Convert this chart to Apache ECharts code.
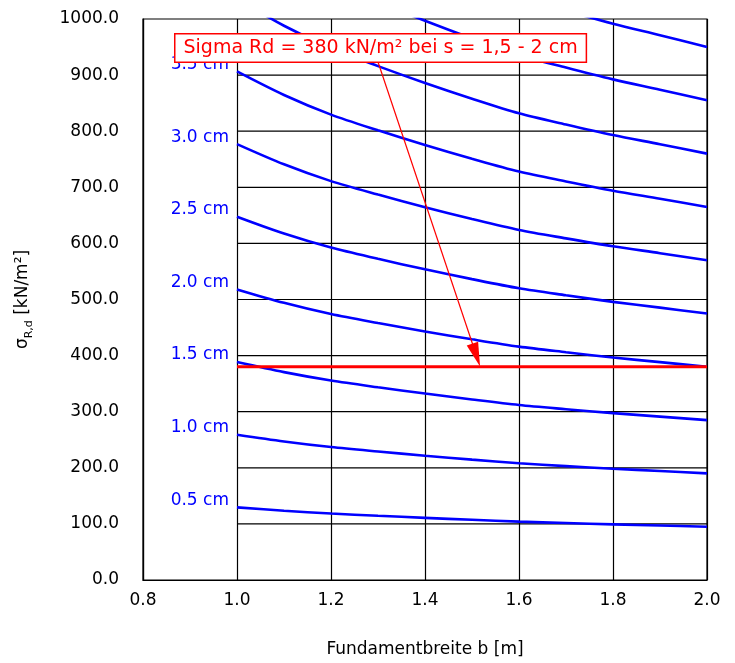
<!DOCTYPE html>
<html><head><meta charset="utf-8">
<script src="https://cdn.jsdelivr.net/npm/echarts@6/dist/echarts.min.js"></script>
<style>html,body{margin:0;padding:0;background:#fff}#c{width:735px;height:663px}</style>
</head><body><div id="c"></div>
<script>
// Foundation widths b [m]
const widths = [1.0, 1.1, 1.2, 1.3, 1.4, 1.5, 1.6, 1.7, 1.8, 1.9, 2.0];
// Settlement curves (sigma R,d in kN/m² for each settlement s)
const curveLabels = ['0.5 cm', '1.0 cm', '1.5 cm', '2.0 cm', '2.5 cm', '3.0 cm', '3.5 cm', '4.0 cm', '4.5 cm', '5.0 cm'];
const labelled = [true, true, true, true, true, true, true, false, false, false];
const s05 = [129.5, 123.5, 118.5, 114.5, 110.8, 107.3, 104, 101.5, 99.2, 97.1, 95];
const s10 = [259, 247, 237, 229, 221.5, 214.5, 208, 203, 198.3, 194.2, 190];
const s15 = [388.5, 370.5, 355.5, 343.5, 332.3, 321.8, 312, 304.5, 297.5, 291.3, 285];
const s20 = [518, 494, 474, 458, 443, 429, 416, 406, 396.6, 388.4, 380];
const s25 = [647.5, 617.5, 592.5, 572.5, 553.8, 536.3, 520, 507.5, 495.8, 485.5, 475];
const s30 = [777, 741, 711, 687, 664.5, 643.5, 624, 609, 594.9, 582.6, 570];
const s35 = [906.5, 864.5, 829.5, 801.5, 775.3, 750.8, 728, 710.5, 694, 679.7, 665];
const s40 = [1036, 988, 948, 916, 886, 858, 832, 812, 793.2, 776.8, 760];
const s45 = [1165.5, 1111.5, 1066.5, 1030.5, 996.8, 965.3, 936, 913.5, 892.4, 873.9, 855];
const s50 = [1295, 1235, 1185, 1145, 1107.5, 1072.5, 1040, 1015, 991.5, 971, 950];
const curves = [s05, s10, s15, s20, s25, s30, s35, s40, s45, s50];

// Axis ticks
const xMin = 0.8, xMax = 2.0, xStep = 0.2;
const yMin = 0, yMax = 1000, yStep = 100;
// Horizontal grid lines drawn only across the data range
const gridLineValues = [100, 200, 300, 400, 500, 600, 700, 800, 900];
const gridLineX = [1.0, 2.0];

// Design value line and arrow
const refX = [1.0, 2.0];
const refY = [380, 380];
const arrowFrom = [1.297, 931];
const arrowTo = [1.509, 401];
const annotationText = 'Sigma Rd = 380 kN/m² bei s = 1,5 - 2 cm';

const FONT = "'DejaVu Sans', 'Liberation Sans', Arial, sans-serif";
const chart = echarts.init(document.getElementById('c'), null, {renderer: 'canvas'});

const series = [];
gridLineValues.forEach(v => {
  series.push({
    type: 'line', silent: true, z: 1, symbol: 'none', animation: false,
    data: gridLineX.map(x => [x, v]),
    lineStyle: {color: '#000', width: 1.2}
  });
});
curves.forEach((vals, k) => {
  series.push({
    type: 'line', name: curveLabels[k], z: 3, smooth: 0.3, animation: false,
    symbol: 'circle', symbolSize: 0, showSymbol: true, showAllSymbol: true,
    lineStyle: {color: '#0000FF', width: 2.6},
    itemStyle: {color: '#0000FF'},
    data: widths.map((x, i) => (i === 0 && labelled[k]) ? {
      value: [x, vals[i]],
      label: {show: true, position: 'left', distance: 8, offset: [0, -7],
        formatter: curveLabels[k], color: '#0000FF', fontSize: 17, fontFamily: FONT}
    } : [x, vals[i]])
  });
});
series.push({
  type: 'line', z: 5, symbol: 'none', animation: false,
  data: refX.map((x, i) => [x, refY[i]]),
  lineStyle: {color: '#FF0000', width: 3},
  markLine: {
    silent: true, animation: false,
    symbol: ['none', 'triangle'], symbolSize: [12, 24],
    label: {show: false},
    lineStyle: {color: '#FF0000', width: 1.2, type: 'solid'},
    data: [[{coord: arrowFrom}, {coord: arrowTo}]]
  }
});

chart.setOption({
  animation: false,
  backgroundColor: '#fff',
  grid: {left: 143, right: 28, top: 19, bottom: 80, show: true, borderColor: '#000', borderWidth: 1.2, backgroundColor: 'transparent'},
  xAxis: {
    type: 'value', min: xMin, max: xMax, interval: xStep,
    name: 'Fundamentbreite b [m]', nameLocation: 'middle', nameGap: 61,
    nameTextStyle: {color: '#000', fontSize: 17, fontFamily: FONT},
    axisLine: {show: true, lineStyle: {color: '#000', width: 1.2}},
    axisTick: {show: false},
    splitLine: {show: true, lineStyle: {color: '#000', width: 1.2}},
    axisLabel: {color: '#000', fontSize: 17, fontFamily: FONT, margin: 12, formatter: v => v.toFixed(1)}
  },
  yAxis: {
    type: 'value', min: yMin, max: yMax, interval: yStep,
    name: '{s|σ}{sub|R,d}{s| [kN/m²]}', nameLocation: 'middle', nameRotate: 90, nameGap: 108,
    nameTextStyle: {color: '#000', fontFamily: FONT,
      rich: {
        s: {fontSize: 17, fontFamily: FONT, color: '#000', lineHeight: 24, verticalAlign: 'middle'},
        sub: {fontSize: 11, fontFamily: FONT, color: '#000', lineHeight: 24, verticalAlign: 'bottom'}
      }},
    axisLine: {show: true, lineStyle: {color: '#000', width: 1.2}},
    axisTick: {show: false},
    splitLine: {show: false},
    axisLabel: {color: '#000', fontSize: 17, fontFamily: FONT, margin: 24, padding: [0, 0, 12, 0],
      formatter: v => v.toFixed(1)}
  },
  graphic: [{
    type: 'text', left: 174, top: 33, z: 100,
    style: {
      text: annotationText, fill: '#FF0000', fontSize: 19, fontFamily: FONT,
      backgroundColor: '#fff', borderColor: '#FF0000', borderWidth: 1.5,
      padding: [3, 8, 3, 8], lineHeight: 21
    }
  }],
  series: series
});
</script></body></html>
